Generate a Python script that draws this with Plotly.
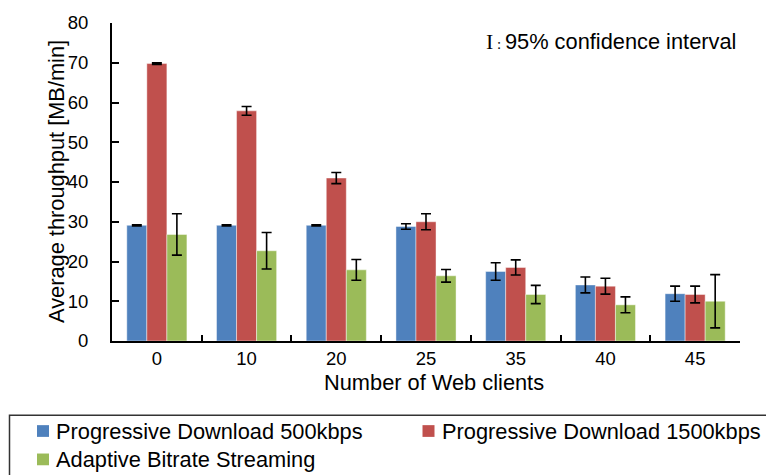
import plotly.graph_objects as go

# Average throughput per number of concurrent web clients, with 95% CI half-widths
clients = ["0", "10", "20", "25", "35", "40", "45"]

pd500 = [29.1, 29.1, 29.1, 28.8, 17.5, 14.1, 11.9]
pd500_ci = [0.15, 0.15, 0.15, 0.7, 2.2, 2.0, 1.9]

pd1500 = [69.8, 57.9, 41.0, 30.0, 18.5, 13.8, 11.7]
pd1500_ci = [0.2, 1.1, 1.4, 2.0, 1.9, 2.0, 2.1]

abr = [26.8, 22.7, 17.9, 16.4, 11.7, 9.1, 10.0]
abr_ci = [5.2, 4.6, 2.6, 1.6, 2.3, 2.0, 6.7]

series_names = [
    "Progressive Download 500kbps",
    "Progressive Download 1500kbps",
    "Adaptive Bitrate Streaming",
]
colors = ["#4F81BD", "#C0504D", "#9BBB59"]

W, H = 766, 475
L, R, T, B = 112, 26, 16, 134
PW, PH = W - L - R, H - T - B


def px(x):
    return (x - L) / PW


def py(y):
    return (H - B - y) / PH


SANS = "Liberation Sans, Arial, sans-serif"
SERIF = "Liberation Serif, Times New Roman, serif"
TXT = 21.8

fig = go.Figure()
for name, vals, ci, col in zip(
    series_names, [pd500, pd1500, abr], [pd500_ci, pd1500_ci, abr_ci], colors
):
    fig.add_trace(
        go.Bar(
            name=name,
            x=clients,
            y=vals,
            marker=dict(color=col, line=dict(color="rgba(255,255,255,0.55)", width=0.8)),
            error_y=dict(type="data", array=ci, visible=True,
                         color="black", thickness=1.6, width=5),
            showlegend=False,
        )
    )

fig.update_layout(
    width=W,
    height=H,
    margin=dict(l=L, r=R, t=T, b=B, pad=0),
    paper_bgcolor="white",
    plot_bgcolor="white",
    barmode="group",
    bargap=0.33,
    bargroupgap=0,
    font=dict(family=SANS, color="black", size=18.5),
    xaxis=dict(
        type="category",
        showline=True, linecolor="black", linewidth=2,
        ticks="inside", ticklen=6, tickwidth=1.5, tickcolor="black",
        tickson="boundaries",
        showgrid=False, zeroline=False,
        tickfont=dict(size=18.5, family=SANS, color="black"),
        ticklabelstandoff=0,
    ),
    yaxis=dict(
        range=[0, 80], dtick=10,
        showline=True, linecolor="black", linewidth=2,
        ticks="inside", ticklen=7, tickwidth=1.5, tickcolor="black",
        showgrid=False, zeroline=False,
        tickfont=dict(size=18.5, family=SANS, color="black"),
        ticklabelstandoff=18,
    ),
)

annotations = [
    # axis titles
    dict(text="Number of Web clients", x=px(434), y=py(383), xref="paper", yref="paper",
         xanchor="center", yanchor="middle", showarrow=False,
         font=dict(size=TXT, family=SANS, color="black")),
    dict(text="Average throughput [MB/min]", x=px(56), y=py(178.5), xref="paper", yref="paper",
         xanchor="center", yanchor="middle", textangle=-90, showarrow=False,
         font=dict(size=TXT, family=SANS, color="black")),
    # error bar key
    dict(text=f'<span style="font-family:{SERIF}">I</span><span style="font-family:{SERIF};font-size:15px"> : </span>95% confidence interval',
         x=px(738), y=py(35), xref="paper", yref="paper",
         xanchor="right", yanchor="middle", showarrow=False,
         font=dict(size=TXT, family=SANS, color="black")),
]

# legend box drawn below the chart
shapes = [
    dict(type="rect", xref="paper", yref="paper",
         x0=px(9.5), x1=px(800), y0=py(417), y1=py(520),
         line=dict(color="#333333", width=1.5), fillcolor="rgba(0,0,0,0)"),
]
legend_pos = [(37, 433), (422.5, 433), (37, 462)]
for name, col, (sx, sy) in zip(series_names, colors, legend_pos):
    shapes.append(dict(type="rect", xref="paper", yref="paper",
                       x0=px(sx), x1=px(sx + 12), y0=py(sy - 6), y1=py(sy + 6),
                       line=dict(width=0), fillcolor=col))
    annotations.append(dict(text=name, x=px(sx + 17), y=py(sy), xref="paper", yref="paper",
                            xanchor="left", yanchor="middle", showarrow=False,
                            font=dict(size=TXT, family=SANS, color="black")))

fig.update_layout(annotations=annotations, shapes=shapes)

fig.write_html("out.html")
